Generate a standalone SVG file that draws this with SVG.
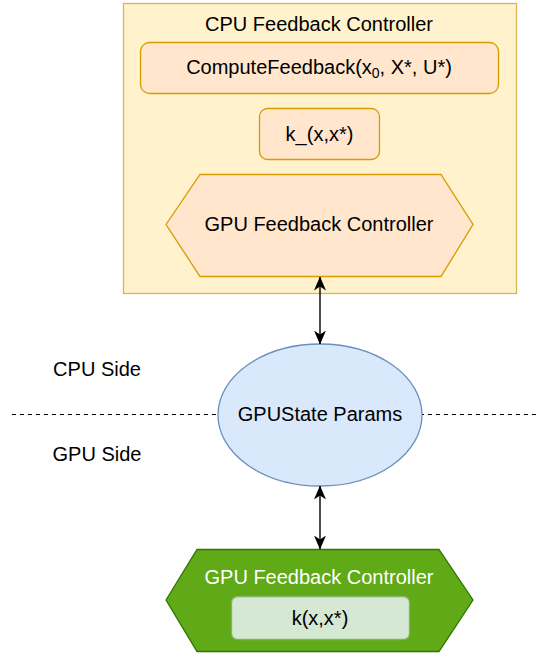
<svg xmlns="http://www.w3.org/2000/svg" width="540" height="656" viewBox="0 0 540 656">
<defs>
<style>
text{font-family:"Liberation Sans",Arial,sans-serif;font-size:20px;fill:#000;text-anchor:middle;dominant-baseline:central}
.orange{fill:#ffe6cc;stroke:#d79b00;stroke-width:1.3}
.conn{stroke:#000;stroke-width:1.4;fill:none}
</style>
<marker id="ah" viewBox="0 0 14 12" refX="13.5" refY="6" markerWidth="14" markerHeight="12" orient="auto-start-reverse" markerUnits="userSpaceOnUse">
<path d="M0,0 L14,6 L0,12 L4,6 Z" fill="#000"/>
</marker>
</defs>
<rect width="540" height="656" fill="#fff"/>
<g id="divider">
<line x1="12" y1="414.5" x2="540" y2="414.5" stroke="#000" stroke-width="1.2" stroke-dasharray="4 4"/>
</g>
<g id="cpu-controller">
<rect x="123.5" y="3.5" width="393" height="290" fill="#fff2cc" stroke="#d6b656" stroke-width="1.3"/>
<text x="319" y="24">CPU Feedback Controller</text>
</g>
<g id="compute-feedback">
<rect class="orange" x="140.5" y="42.5" width="358" height="51" rx="9"/>
<text x="319" y="67">ComputeFeedback(x<tspan font-size="14" dy="6">0</tspan><tspan dy="-6">, X*, U*)</tspan></text>
</g>
<g id="k-cpu">
<rect class="orange" x="259.5" y="108.5" width="120" height="51" rx="8"/>
<text x="319.5" y="134">k_(x,x*)</text>
</g>
<g id="gpu-fc-cpu">
<polygon class="orange" points="166,224.5 200,174.5 441,174.5 473,224.5 441,276.5 200,276.5"/>
<text x="319" y="224">GPU Feedback Controller</text>
</g>
<g id="cpu-side"><text x="97" y="369">CPU Side</text></g>
<g id="gpu-side"><text x="97" y="454">GPU Side</text></g>
<g id="gpustate">
<ellipse cx="320" cy="415" rx="102" ry="71" fill="#dae8fc" stroke="#6c8ebf" stroke-width="1.3"/>
<text x="320" y="414">GPUState Params</text>
</g>
<g id="gpu-controller">
<polygon points="166,600 197,549.5 439,549.5 473,600 439,651.5 197,651.5" fill="#60a917" stroke="#2d7600" stroke-width="1.3"/>
<text x="319" y="577" style="fill:#fff">GPU Feedback Controller</text>
</g>
<g id="k-gpu">
<rect x="231.5" y="596.5" width="178" height="43" rx="6" fill="#d5e8d4" stroke="#82b366" stroke-width="1.3"/>
<text x="320" y="618">k(x,x*)</text>
</g>
<g id="connectors">
<line class="conn" x1="320" y1="277" x2="320" y2="344" marker-start="url(#ah)" marker-end="url(#ah)"/>
<line class="conn" x1="320" y1="486" x2="320" y2="549" marker-start="url(#ah)" marker-end="url(#ah)"/>
</g>
</svg>
